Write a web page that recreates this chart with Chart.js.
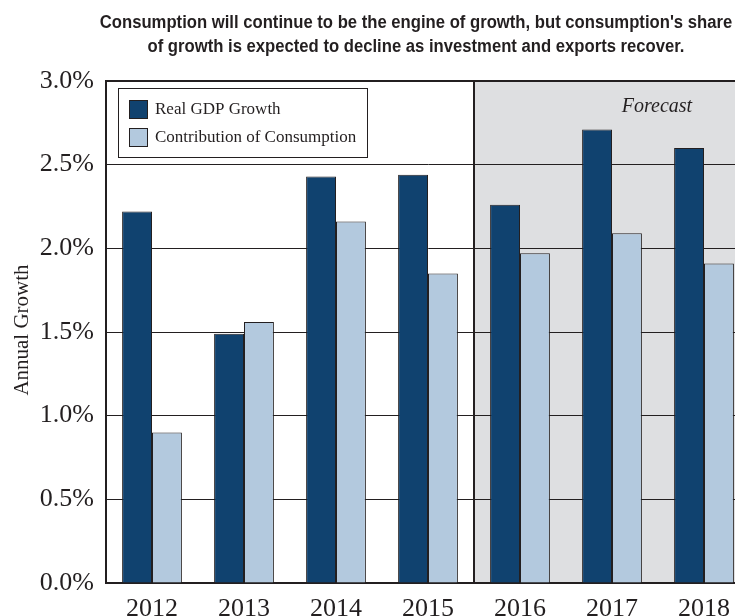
<!DOCTYPE html>
<html>
<head>
<meta charset="utf-8">
<script src="https://cdn.jsdelivr.net/npm/chart.js@4"></script>
<style>
  body { margin: 0; background: #fff; overflow: hidden; }
  #wrap { position: absolute; left: 0; top: 0; width: 760px; height: 616px; }
</style>
</head>
<body>
<div id="wrap"><canvas id="myChart" width="760" height="616"></canvas></div>
<script>
const years = ['2012', '2013', '2014', '2015', '2016', '2017', '2018'];
const realGdpGrowth = [2.22, 1.49, 2.43, 2.44, 2.26, 2.71, 2.60];
const consumptionContribution = [0.90, 1.56, 2.16, 1.85, 1.97, 2.09, 1.91];
const seriesNames = ['Real GDP Growth', 'Contribution of Consumption'];
const titleLines = [
    "Consumption will continue to be the engine of growth, but consumption's share",
    'of growth is expected to decline as investment and exports recover.'
];
const forecastFrom = 4; // index of 2016

const darkBlue = '#10426f';
const lightBlue = '#b3c9de';
const ink = '#231f20';
const serif = '"Liberation Serif", "Times New Roman", serif';

// draws the shaded forecast area, title, frame and the legend box
const decorations = {
    id: 'decorations',
    beforeDraw(chart) {
        const { ctx, chartArea, scales } = chart;
        const x = scales.x;
        const split = (x.getPixelForTick(forecastFrom - 1) + x.getPixelForTick(forecastFrom)) / 2;
        ctx.save();
        ctx.fillStyle = '#dedfe1';
        ctx.fillRect(split, chartArea.top, chartArea.right - split, chartArea.bottom - chartArea.top);
        ctx.restore();
    },
    afterDraw(chart) {
        const { ctx, chartArea, scales } = chart;
        const x = scales.x;
        const split = (x.getPixelForTick(forecastFrom - 1) + x.getPixelForTick(forecastFrom)) / 2;
        ctx.save();

        // frame: top border and forecast divider
        ctx.strokeStyle = ink;
        ctx.lineWidth = 2;
        ctx.beginPath();
        ctx.moveTo(chartArea.left - 1, chartArea.top);
        ctx.lineTo(chartArea.right, chartArea.top);
        ctx.moveTo(split, chartArea.top);
        ctx.lineTo(split, chartArea.bottom);
        ctx.stroke();

        // title, squeezed a little to look condensed
        ctx.save();
        ctx.fillStyle = ink;
        ctx.textAlign = 'center';
        ctx.textBaseline = 'middle';
        ctx.font = 'bold 17px "Liberation Sans", Arial, sans-serif';
        ctx.translate(416, 0);
        ctx.scale(0.98, 1.05);
        ctx.fillText(titleLines[0], 0, 22);
        ctx.fillText(titleLines[1], 0, 45);
        ctx.restore();

        ctx.fillStyle = ink;
        ctx.textAlign = 'center';
        ctx.textBaseline = 'middle';

        // forecast label
        ctx.font = 'italic 20px ' + serif;
        ctx.fillText('Forecast', 657, 107);

        // y axis title
        ctx.save();
        ctx.translate(22, 330);
        ctx.rotate(-Math.PI / 2);
        ctx.font = '21px ' + serif;
        ctx.fillText('Annual Growth', 0, 0);
        ctx.restore();

        // legend
        ctx.fillStyle = '#fff';
        ctx.fillRect(118, 88, 249, 69);
        ctx.lineWidth = 1;
        ctx.strokeRect(118.5, 88.5, 249, 69);
        const colors = [darkBlue, lightBlue];
        ctx.textAlign = 'left';
        ctx.font = '17px ' + serif;
        seriesNames.forEach((name, i) => {
            const y = 100 + i * 28;
            ctx.fillStyle = colors[i];
            ctx.fillRect(129, y, 18, 18);
            ctx.strokeStyle = ink;
            ctx.strokeRect(129.5, y + 0.5, 18, 18);
            ctx.fillStyle = ink;
            ctx.fillText(name, 155, y + 10);
        });
        ctx.restore();
    }
};

const ctx = document.getElementById('myChart').getContext('2d');

let myChart = new Chart(ctx, {
    type: 'bar',
    data: {
        labels: years,
        datasets: [{
            label: seriesNames[0],
            data: realGdpGrowth,
            backgroundColor: darkBlue,
            borderColor: ink,
            borderWidth: 1
        }, {
            label: seriesNames[1],
            data: consumptionContribution,
            backgroundColor: lightBlue,
            borderColor: ink,
            borderWidth: 1
        }]
    },
    options: {
        responsive: false,
        animation: false,
        layout: {
            padding: { left: 0, top: 81, right: 10, bottom: 0 }
        },
        plugins: {
            legend: { display: false },
            title: { display: false },
            tooltip: { enabled: false }
        },
        datasets: {
            bar: { categoryPercentage: 0.65, barPercentage: 1.0 }
        },
        scales: {
            x: {
                grid: { display: false, drawTicks: false },
                border: { display: true, color: ink, width: 2 },
                ticks: {
                    color: ink,
                    padding: 11,
                    font: { family: serif, size: 26 }
                },
                afterFit(scale) { scale.height = 33; }
            },
            y: {
                min: 0,
                max: 3,
                grid: {
                    drawTicks: false,
                    color: c => (c.tick.value === 0 || c.tick.value === 3) ? 'rgba(0,0,0,0)' : ink,
                    lineWidth: 1
                },
                border: { display: true, color: ink, width: 2 },
                ticks: {
                    stepSize: 0.5,
                    color: ink,
                    padding: 12,
                    font: { family: serif, size: 26 },
                    callback: v => v.toFixed(1) + '%'
                },
                afterFit(scale) { scale.width = 106; }
            }
        }
    },
    plugins: [decorations]
});
</script>
</body>
</html>
